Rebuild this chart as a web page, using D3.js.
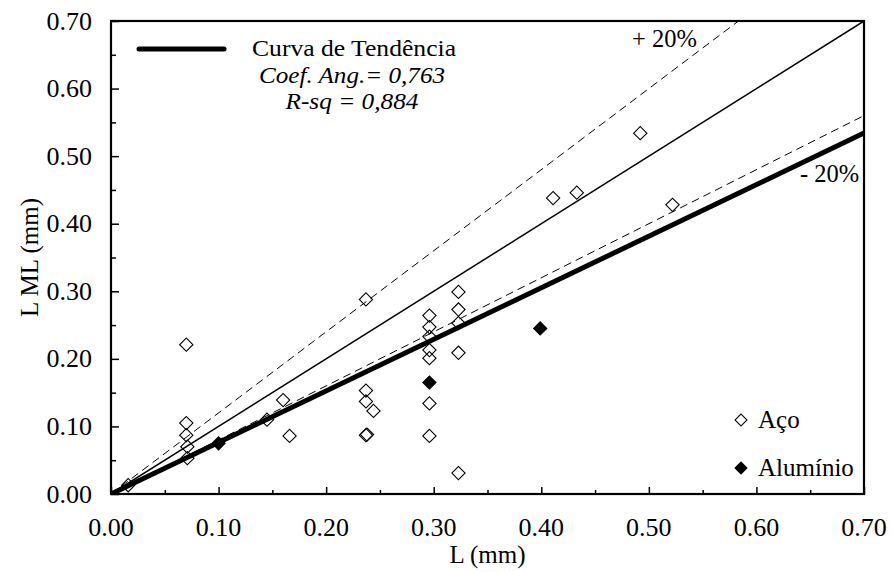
<!DOCTYPE html>
<html>
<head>
<meta charset="utf-8">
<script src="https://cdn.jsdelivr.net/npm/d3@7"></script>
<style>
  html, body { margin: 0; padding: 0; background: #fff; }
  svg text { font-family: "Liberation Serif", "Times New Roman", serif; fill: #000; }
</style>
</head>
<body>
<svg id="chart" width="893" height="572"></svg>
<script>
// Measured steel (Aço) samples: L (mm) vs L ML (mm)
const acoL  = [0.070, 0.070, 0.070, 0.071, 0.071, 0.016, 0.145, 0.160, 0.166,
               0.237, 0.237, 0.237, 0.244, 0.237, 0.238,
               0.296, 0.296, 0.296, 0.296, 0.296, 0.296, 0.296,
               0.323, 0.323, 0.323, 0.323, 0.323,
               0.411, 0.433, 0.492, 0.522];
const acoLML = [0.221, 0.105, 0.087, 0.070, 0.053, 0.013, 0.110, 0.139, 0.086,
                0.288, 0.153, 0.137, 0.123, 0.087, 0.088,
                0.264, 0.247, 0.233, 0.213, 0.201, 0.134, 0.086,
                0.299, 0.273, 0.253, 0.209, 0.031,
                0.438, 0.446, 0.534, 0.428];
// Aluminium (Alumínio) samples
const aluL   = [0.100, 0.296, 0.399];
const aluLML = [0.075, 0.165, 0.245];

// Reference lines: y = k·x
const trendSlope = 0.763;
const refSlopes = { equal: 1.0, plus20: 1.2, minus20: 0.8 };

const xTicks = [0.00, 0.10, 0.20, 0.30, 0.40, 0.50, 0.60, 0.70];
const yTicks = [0.00, 0.10, 0.20, 0.30, 0.40, 0.50, 0.60, 0.70];
const minorTicks = [0.05, 0.15, 0.25, 0.35, 0.45, 0.55, 0.65];

const legendLines = ["Curva de Tendência", "Coef. Ang.= 0,763", "R-sq = 0,884"];

const svg = d3.select("#chart");
const pLeft = 111, pRight = 864, pTop = 21, pBottom = 494;

const x = d3.scaleLinear().domain([0, 0.7]).range([pLeft, pRight]);
const y = d3.scaleLinear().domain([0, 0.7]).range([pBottom, pTop]);

svg.append("defs").append("clipPath").attr("id", "plot")
  .append("rect").attr("x", pLeft).attr("y", pTop)
  .attr("width", pRight - pLeft).attr("height", pBottom - pTop);

const plot = svg.append("g").attr("clip-path", "url(#plot)");

// Diamond marker
const diamond = d3.symbol().type(d3.symbolSquare).size(88);

const aco = acoL.map((v, i) => [v, acoLML[i]]);
const alu = aluL.map((v, i) => [v, aluLML[i]]);

plot.selectAll("path.aco").data(aco).join("path")
  .attr("class", "aco")
  .attr("d", diamond)
  .attr("transform", d => `translate(${x(d[0])},${y(d[1])}) rotate(45)`)
  .attr("fill", "none").attr("stroke", "#000").attr("stroke-width", 1.1);

plot.selectAll("path.alu").data(alu).join("path")
  .attr("class", "alu")
  .attr("d", diamond)
  .attr("transform", d => `translate(${x(d[0])},${y(d[1])}) rotate(45)`)
  .attr("fill", "#000").attr("stroke", "#000").attr("stroke-width", 1);

// Lines through the origin
const line = d3.line().x(d => x(d[0])).y(d => y(d[1]));
const ray = k => [[0, 0], [0.7, 0.7 * k]];

plot.append("path").attr("d", line(ray(refSlopes.plus20)))
  .attr("fill", "none").attr("stroke", "#000").attr("stroke-width", 1)
  .attr("stroke-dasharray", "8,5");
plot.append("path").attr("d", line(ray(refSlopes.minus20)))
  .attr("fill", "none").attr("stroke", "#000").attr("stroke-width", 1)
  .attr("stroke-dasharray", "8,5");
plot.append("path").attr("d", line(ray(refSlopes.equal)))
  .attr("fill", "none").attr("stroke", "#000").attr("stroke-width", 1.5);
plot.append("path").attr("d", line(ray(trendSlope)))
  .attr("fill", "none").attr("stroke", "#000").attr("stroke-width", 5);

// Axes with inward ticks
const xAxis = d3.axisTop(x).tickValues(xTicks).tickSize(7).tickFormat("");
const yAxis = d3.axisRight(y).tickValues(yTicks).tickSize(8).tickFormat("");
const xMinor = d3.axisTop(x).tickValues(minorTicks).tickSize(4).tickFormat("");
const yMinor = d3.axisRight(y).tickValues(minorTicks).tickSize(5).tickFormat("");

function styleAxis(g) {
  g.select(".domain").remove();
  g.selectAll(".tick line").attr("stroke", "#000").attr("stroke-width", 1.5);
}
svg.append("g").attr("transform", `translate(0,${pBottom})`).call(xAxis).call(styleAxis);
svg.append("g").attr("transform", `translate(0,${pBottom})`).call(xMinor).call(styleAxis);
svg.append("g").attr("transform", `translate(${pLeft},0)`).call(yAxis).call(styleAxis);
svg.append("g").attr("transform", `translate(${pLeft},0)`).call(yMinor).call(styleAxis);

// Frame
svg.append("rect").attr("x", pLeft).attr("y", pTop)
  .attr("width", pRight - pLeft).attr("height", pBottom - pTop)
  .attr("fill", "none").attr("stroke", "#000").attr("stroke-width", 2.2);

// Tick labels
const fmt = d3.format(".2f");
svg.append("g").selectAll("text").data(xTicks).join("text")
  .attr("x", d => x(d)).attr("y", 536)
  .attr("text-anchor", "middle").attr("font-size", 26)
  .text(fmt);
svg.append("g").selectAll("text").data(yTicks).join("text")
  .attr("x", 92).attr("y", d => y(d) + 8.5)
  .attr("text-anchor", "end").attr("font-size", 26)
  .text(fmt);

// Axis titles
svg.append("text").attr("x", (pLeft + pRight) / 2).attr("y", 563)
  .attr("text-anchor", "middle").attr("font-size", 25).text("L (mm)");
svg.append("text")
  .attr("transform", `translate(38,${(pTop + pBottom) / 2}) rotate(-90)`)
  .attr("text-anchor", "middle").attr("font-size", 25).text("L ML (mm)");

// Band labels
svg.append("text").attr("x", 632).attr("y", 47).attr("font-size", 24.5).text("+ 20%");
svg.append("text").attr("x", 800).attr("y", 182).attr("font-size", 24.5).text("- 20%");

// Trend legend (three stacked lines)
svg.append("line").attr("x1", 139).attr("x2", 224).attr("y1", 49).attr("y2", 49)
  .attr("stroke", "#000").attr("stroke-width", 5).attr("stroke-linecap", "round");
svg.append("text").attr("x", 354).attr("y", 56).attr("text-anchor", "middle")
  .attr("font-size", 23.8).attr("textLength", 204).attr("lengthAdjust", "spacingAndGlyphs")
  .text(legendLines[0]);
svg.append("text").attr("x", 352).attr("y", 82.5).attr("text-anchor", "middle")
  .attr("font-size", 23.8).attr("font-style", "italic")
  .attr("textLength", 186).attr("lengthAdjust", "spacingAndGlyphs")
  .text(legendLines[1]);
svg.append("text").attr("x", 352).attr("y", 109).attr("text-anchor", "middle")
  .attr("font-size", 23.8).attr("font-style", "italic")
  .attr("textLength", 133).attr("lengthAdjust", "spacingAndGlyphs")
  .text(legendLines[2]);

// Series legend
const legendSym = d3.symbol().type(d3.symbolSquare).size(70);
const series = [
  { name: "Aço", fill: "none", ly: 420 },
  { name: "Alumínio", fill: "#000", ly: 468 }
];
const lg = svg.append("g");
lg.selectAll("path").data(series).join("path")
  .attr("d", legendSym)
  .attr("transform", d => `translate(741,${d.ly}) rotate(45)`)
  .attr("fill", d => d.fill).attr("stroke", "#000").attr("stroke-width", 1.1);
lg.selectAll("text").data(series).join("text")
  .attr("x", 758).attr("y", d => d.ly + 8)
  .attr("font-size", 25).text(d => d.name);
</script>
</body>
</html>
